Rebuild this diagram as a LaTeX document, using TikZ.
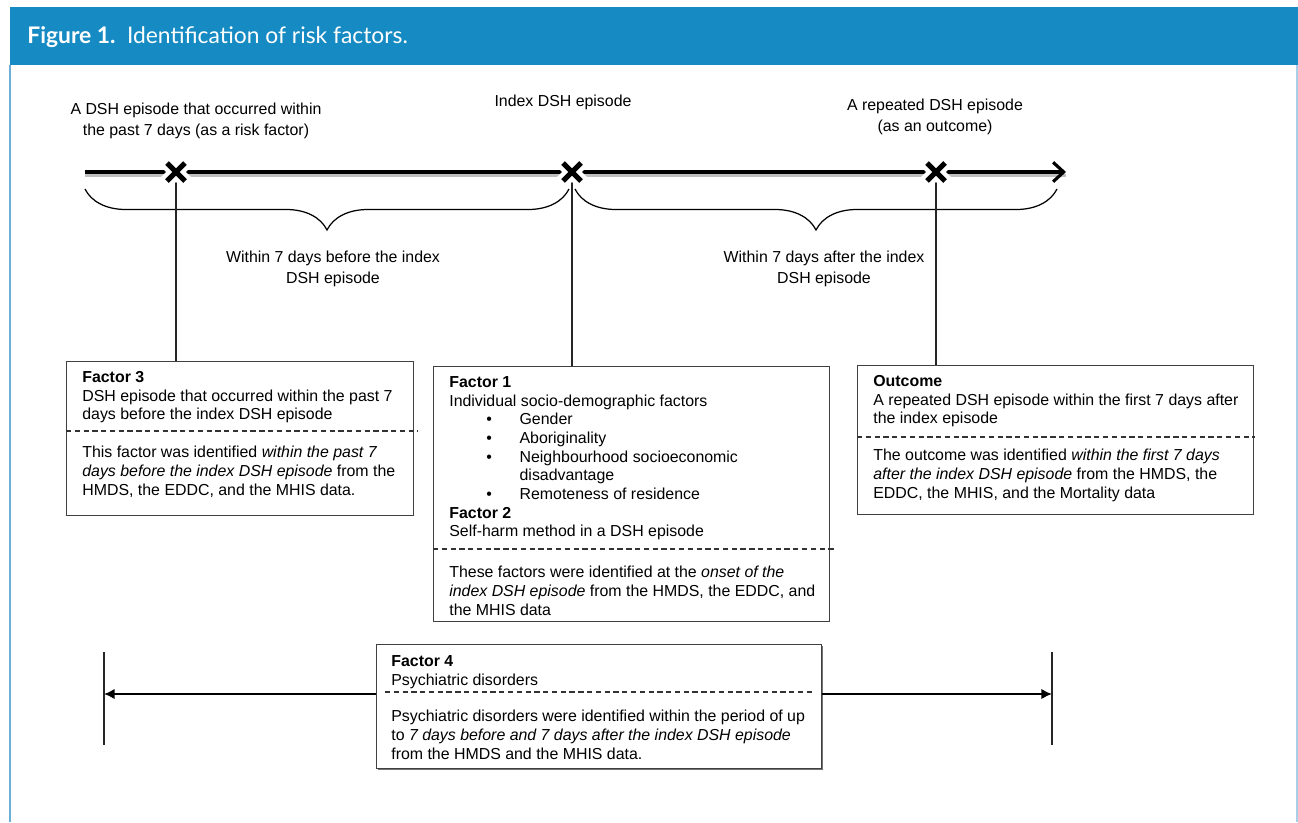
\documentclass[tikz,border=0pt]{standalone}
\usepackage{fontspec}
\setmainfont{Liberation Sans}
\newfontfamily\headfont{Lato}
\usetikzlibrary{decorations.pathreplacing, arrows.meta, positioning}

\definecolor{headblue}{RGB}{22,138,194}
\definecolor{frameblue}{RGB}{110,175,215}

\begin{document}
\begin{tikzpicture}[
    x=0.02cm, y=-0.02cm,
    every node/.style={font=\fontsize{9.05}{10.65}\selectfont, inner sep=0pt},
    box/.style={draw=black!75, line width=0.7pt, anchor=north west, fill=white},
    box_text/.style={anchor=north west, align=left},
    label_style/.style={align=center, font=\fontsize{9.05}{11.6}\selectfont},
    sep/.style={black!80, line width=0.6pt, dash pattern=on 3pt off 2pt},
    link/.style={black!85, line width=0.8pt},
    brace_style/.style={decorate, decoration={brace, amplitude=0.82cm, mirror}, line width=0.7pt}
]

\useasboundingbox (0,0) rectangle (1298,822);

% ==========================
% CABECERA Y MARCO
% ==========================
\fill[headblue] (10,7) rectangle (1298,65);
\node[anchor=west, text=white, font=\headfont\fontsize{13}{15}\selectfont] (title) at (27,37)
    {\textbf{Figure 1.}\hspace{0.5em}Identification of risk factors.};
\draw[frameblue, line width=1.2pt] (10,65) -- (10,822);
\draw[frameblue!60, line width=0.8pt] (1297,65) -- (1297,822);

% ==========================
% LINEA DE TIEMPO
% ==========================
\coordinate (tl_start) at (85,172);
\coordinate (tl_end) at (1066,172);
\coordinate (m1) at (176,172);
\coordinate (m2) at (572,172);
\coordinate (m3) at (936,172);

\draw[black!25, line width=2pt] ([yshift=-2pt]tl_start) -- ([yshift=-2pt]tl_end);
\draw[line width=1.8pt, -{Straight Barb[length=6pt, width=11pt, line width=1.8pt]}] (tl_start) -- (tl_end);

% Etiquetas superiores
\node[label_style] (lbl_past) at (196,121) {A DSH episode that occurred within\\the past 7 days (as a risk factor)};
\node[label_style] (lbl_index) at (563,102) {Index DSH episode};
\node[label_style] (lbl_rep) at (935,117) {A repeated DSH episode\\(as an outcome)};

% Llaves
\draw[brace_style] (85,189) -- (569,189);
\draw[brace_style] (575,189) -- (1057,189);
\node[label_style] (lbl_before) at (333,269) {Within 7 days before the index\\DSH episode};
\node[label_style] (lbl_after) at (824,269) {Within 7 days after the index\\DSH episode};

% ==========================
% CAJAS
% ==========================
\node[box, minimum width=6.94cm, minimum height=3.08cm] (f3) at (66,361) {};
\node[box, minimum width=7.92cm, minimum height=5.1cm] (f1) at (433,366) {};
\node[box, minimum width=7.92cm, minimum height=2.98cm] (out) at (857,365) {};

\node[box_text] (f3_top) at (82,371) {\textbf{Factor 3}\\DSH episode that occurred within the past 7\\days before the index DSH episode};
\draw[sep] (f3.west |- 0,431) -- (418,431);
\node[box_text] (f3_bot) at (82,446) {This factor was identified \textit{within the past 7}\\\textit{days before the index DSH episode} from the\\HMDS, the EDDC, and the MHIS data.};

\node[box_text] (f1_top) at (449,376) {\textbf{Factor 1}\\Individual socio-demographic factors\\
    \hspace*{21pt}\makebox[19pt][l]{\textbullet}Gender\\
    \hspace*{21pt}\makebox[19pt][l]{\textbullet}Aboriginality\\
    \hspace*{21pt}\makebox[19pt][l]{\textbullet}Neighbourhood socioeconomic\\
    \hspace*{40pt}disadvantage\\
    \hspace*{21pt}\makebox[19pt][l]{\textbullet}Remoteness of residence\\
    \textbf{Factor 2}\\Self-harm method in a DSH episode};
\draw[sep] (f1.west |- 0,549) -- (835,549);
\node[box_text] (f1_bot) at (449,566) {These factors were identified at the \textit{onset of the}\\\textit{index DSH episode} from the HMDS, the EDDC, and\\the MHIS data};

\node[box_text] (out_top) at (873,375) {\textbf{Outcome}\\A repeated DSH episode within the first 7 days after\\the index episode};
\draw[sep] (out.west |- 0,437) -- (1255,437);
\node[box_text] (out_bot) at (873,449) {The outcome was identified \textit{within the first 7 days}\\\textit{after the index DSH episode} from the HMDS, the\\EDDC, the MHIS, and the Mortality data};

% Conectores verticales
\draw[link] (m1) -- (m1 |- f3.north);
\draw[link] (m2) -- (m2 |- f1.north);
\draw[link] (m3) -- (m3 |- out.north);

% Marcas X
\foreach \m in {m1,m2,m3} {
    \draw[white, line width=8pt] ([shift={(-11,-11)}]\m) -- ([shift={(11,11)}]\m)
                                 ([shift={(-11,11)}]\m) -- ([shift={(11,-11)}]\m);
    \draw[black, line width=2.9pt] ([shift={(-9,-9)}]\m) -- ([shift={(9,9)}]\m)
                                   ([shift={(-9,9)}]\m) -- ([shift={(9,-9)}]\m);
}

% ==========================
% FACTOR 4
% ==========================
\fill[black!55] (378,646) rectangle (823,770);
\node[box, minimum width=8.9cm, minimum height=2.48cm] (f4) at (376,644) {};
\node[box_text] (f4_top) at (391,655) {\textbf{Factor 4}\\Psychiatric disorders};
\draw[sep] (385,692) -- (812,692);
\node[box_text] (f4_bot) at (391,710) {Psychiatric disorders were identified within the period of up\\to \textit{7 days before and 7 days after the index DSH episode}\\from the HMDS and the MHIS data.};

\coordinate (bar_l) at (104,694);
\coordinate (bar_r) at (1052,694);
\draw[link] ([yshift=0.84cm]bar_l) -- ([yshift=-1.02cm]bar_l);
\draw[link] ([yshift=0.84cm]bar_r) -- ([yshift=-1.02cm]bar_r);
\draw[line width=1.3pt, -{Latex[length=6pt, width=6pt]}] (f4.west |- bar_l) -- (bar_l);
\draw[line width=1.3pt, -{Latex[length=6pt, width=6pt]}] (f4.east |- bar_r) -- (bar_r);

\end{tikzpicture}
\end{document}
